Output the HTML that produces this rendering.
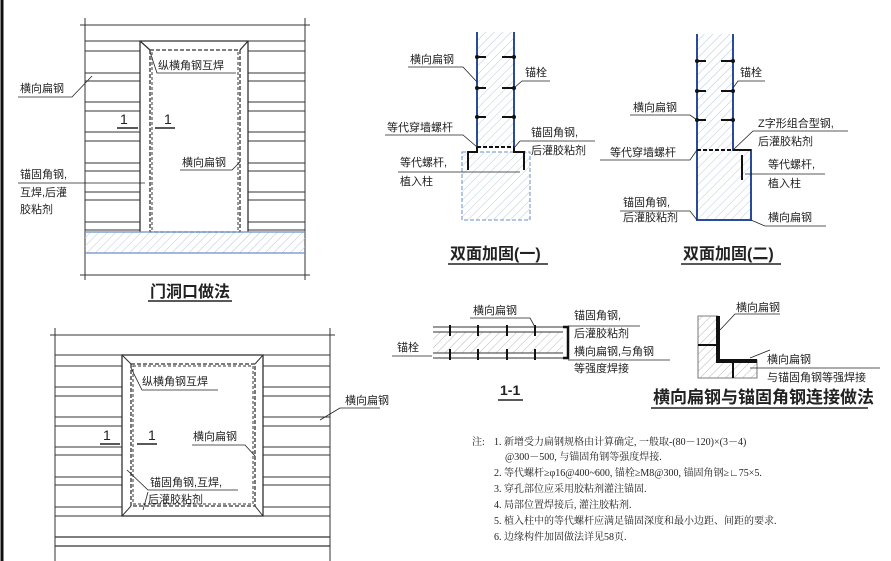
<!DOCTYPE html>
<html><head><meta charset="utf-8"><style>
html,body{margin:0;padding:0;background:#fff;}
svg{display:block;}
text{font-family:"Liberation Sans","Noto Sans CJK SC",sans-serif;fill:#222;}
.l{font-size:11px;}
.t{font-size:16px;font-weight:bold;}
.n{font-size:10px;font-family:"Liberation Serif","Noto Serif CJK SC",serif;}
</style></head><body>
<svg width="891" height="561" viewBox="0 0 891 561" xmlns="http://www.w3.org/2000/svg">
<defs>
<pattern id="h" width="6" height="6" patternUnits="userSpaceOnUse" patternTransform="rotate(45)">
<line x1="0" y1="0" x2="0" y2="6" stroke="#b8c8dc" stroke-width="1"/></pattern>
<pattern id="hg" width="6" height="6" patternUnits="userSpaceOnUse" patternTransform="rotate(45)">
<line x1="0" y1="0" x2="0" y2="6" stroke="#bbb" stroke-width="1"/></pattern>
</defs>
<rect width="891" height="561" fill="#fff"/>
<line x1="2" y1="0" x2="2" y2="561" stroke="#111" stroke-width="3"/>

<!-- TOP LEFT -->
<g stroke="#333" stroke-width="1" fill="none">
<line x1="85" y1="18" x2="85" y2="280"/><line x1="305" y1="18" x2="305" y2="280"/>
<line x1="80" y1="25" x2="310" y2="25"/><line x1="80" y1="275" x2="310" y2="275"/>
<path d="M85,41H140 M85,51H140 M85,73H140 M85,81H140 M85,102H140 M85,111H140 M85,132H140 M85,141H140 M85,163H140 M85,171H140 M85,192H140 M85,200H140 M85,222H140 M85,230H140"/>
<path d="M248,41H305 M248,51H305 M248,73H305 M248,81H305 M248,102H305 M248,111H305 M248,132H305 M248,141H305 M248,163H305 M248,171H305 M248,192H305 M248,200H305 M248,222H305 M248,230H305"/>
<path d="M140,232V41H248V232 M140,41L150,50 M248,41L240,50" stroke-width="1.3"/>
<rect x="150" y="50" width="90" height="182" stroke-dasharray="4,2" stroke-width="1.3"/>
<line x1="152" y1="52" x2="152" y2="232" stroke-dasharray="3,2"/><line x1="238" y1="52" x2="238" y2="232" stroke-dasharray="3,2"/>
</g>
<rect x="85" y="232" width="220" height="21" fill="url(#h)"/>
<line x1="85" y1="232" x2="305" y2="232" stroke="#6a8fc8" stroke-width="1.2"/>
<line x1="85" y1="253" x2="305" y2="253" stroke="#6a8fc8" stroke-width="1.2"/>
<g stroke="#222" stroke-width="0.8" fill="none">
<path d="M18,97H72L92,76"/>
<path d="M150,52L157,73H236"/>
<path d="M180,170H232L240,162"/>
<path d="M18,183H145"/>
<path d="M117,128H138 M155,128H175" stroke-width="1.5"/>
</g>
<text class="l" x="20" y="92">横向扁钢</text>
<text class="l" x="158" y="69">纵横角钢互焊</text>
<text x="120" y="124" style="font-size:14px">1</text><text x="164" y="124" style="font-size:14px">1</text>
<text class="l" x="182" y="166">横向扁钢</text>
<text class="l" x="20" y="178">锚固角钢,</text>
<text class="l" x="20" y="196">互焊,后灌</text>
<text class="l" x="20" y="213">胶粘剂</text>
<text class="t" x="150" y="297">门洞口做法</text>
<line x1="148" y1="301" x2="232" y2="301" stroke="#222" stroke-width="1.5"/>

<!-- BOTTOM LEFT -->
<g stroke="#333" stroke-width="1" fill="none">
<line x1="55" y1="328" x2="55" y2="561"/><line x1="330" y1="328" x2="330" y2="561"/>
<line x1="50" y1="335" x2="335" y2="335"/>
<path d="M55,355H122 M55,366H122 M55,387H122 M55,396H122 M55,417H122 M55,426H122 M55,447H122 M55,455H122 M55,477H122 M55,485H122 M55,507H122 M55,516H122"/>
<path d="M263,355H330 M263,366H330 M263,387H330 M263,396H330 M263,417H330 M263,426H330 M263,447H330 M263,455H330 M263,477H330 M263,485H330 M263,507H330 M263,516H330"/>
<path d="M55,537H330 M55,546H330" stroke-width="1.3"/>
<rect x="122" y="355" width="141" height="161" stroke-width="1.3"/>
<path d="M122,355L131,364 M263,355L255,364 M122,516L131,506 M263,516L255,506"/>
<rect x="131" y="364" width="124" height="142" stroke-dasharray="4,2" stroke-width="1.3"/>
<rect x="133" y="366" width="120" height="138" stroke-dasharray="3,2"/>
</g>
<g stroke="#222" stroke-width="0.8" fill="none">
<path d="M131,368L142,390H218"/>
<path d="M192,445H245L255,456"/>
<path d="M127,470L148,490H238"/>
<path d="M148,492L143,510"/>
<path d="M340,408H380 M340,408L320,420"/>
<path d="M100,444H120 M137,444H157" stroke-width="1.5"/>
</g>
<text class="l" x="142" y="385">纵横角钢互焊</text>
<text x="103" y="440" style="font-size:14px">1</text><text x="148" y="440" style="font-size:14px">1</text>
<text class="l" x="193" y="440">横向扁钢</text>
<text class="l" x="150" y="486">锚固角钢,互焊,</text>
<text class="l" x="148" y="503">后灌胶粘剂</text>
<text class="l" x="345" y="404">横向扁钢</text>

<!-- 双面加固(一) -->
<rect x="477" y="32" width="37" height="115" fill="url(#h)"/>
<rect x="462" y="152" width="68" height="68" fill="url(#h)" stroke="#6a8fc8" stroke-dasharray="4,2"/>
<g stroke="#2a4a9a" stroke-width="2"><line x1="477" y1="32" x2="477" y2="147"/><line x1="514" y1="32" x2="514" y2="147"/></g>
<g stroke="#111" stroke-width="2" fill="none">
<path d="M477,57h9 M502,57h12 M477,88h9 M502,88h12 M477,117h9 M502,117h12"/>
<path d="M477,147H514" stroke-dasharray="4,2"/>
<path d="M468,170V152H477V147 M524,170V152H514V147" stroke-width="2"/>
</g>
<g fill="#111"><circle cx="477" cy="57" r="2"/><circle cx="514" cy="57" r="2"/><circle cx="477" cy="88" r="2"/><circle cx="514" cy="88" r="2"/><circle cx="477" cy="117" r="2"/><circle cx="514" cy="117" r="2"/></g>
<g stroke="#222" stroke-width="0.8" fill="none">
<path d="M408,67H463L477,82"/>
<path d="M550,81H522L514,88"/>
<path d="M385,135H463L477,147"/>
<path d="M520,141H595 M520,141L514,148"/>
<path d="M398,172H520"/>
</g>
<text class="l" x="410" y="63">横向扁钢</text>
<text class="l" x="525" y="76">锚栓</text>
<text class="l" x="387" y="131">等代穿墙螺杆</text>
<text class="l" x="531" y="136">锚固角钢,</text>
<text class="l" x="531" y="154">后灌胶粘剂</text>
<text class="l" x="400" y="166">等代螺杆,</text>
<text class="l" x="400" y="185">植入柱</text>
<text class="t" x="450" y="259">双面加固(一)</text>
<line x1="448" y1="264" x2="548" y2="264" stroke="#222" stroke-width="1.5"/>

<!-- 双面加固(二) -->
<path d="M697,34H733V150H751V220H697Z" fill="url(#h)"/>
<g stroke="#2a4a9a" stroke-width="2" fill="none"><path d="M697,34V220H751V150H733V34"/></g>
<g stroke="#111" stroke-width="2" fill="none">
<path d="M697,61h9 M721,61h12 M697,91h9 M721,91h12 M697,120h9 M721,120h12"/>
<path d="M697,150H733" stroke-dasharray="4,2"/>
<path d="M733,150H751 M742,155V180" stroke-width="2"/>
</g>
<g fill="#111"><circle cx="697" cy="61" r="2"/><circle cx="733" cy="61" r="2"/><circle cx="697" cy="91" r="2"/><circle cx="733" cy="91" r="2"/><circle cx="697" cy="120" r="2"/><circle cx="733" cy="120" r="2"/></g>
<g stroke="#222" stroke-width="0.8" fill="none">
<path d="M765,81H738L733,88"/>
<path d="M630,115H690L697,120"/>
<path d="M848,131H753L733,150"/>
<path d="M600,160H690L697,150"/>
<path d="M745,174H825"/>
<path d="M620,211H690L697,220"/>
<path d="M826,226H765L751,220"/>
</g>
<text class="l" x="740" y="76">锚栓</text>
<text class="l" x="633" y="111">横向扁钢</text>
<text class="l" x="758" y="127">Z字形组合型钢,</text>
<text class="l" x="758" y="145">后灌胶粘剂</text>
<text class="l" x="610" y="156">等代穿墙螺杆</text>
<text class="l" x="768" y="168">等代螺杆,</text>
<text class="l" x="768" y="187">植入柱</text>
<text class="l" x="623" y="206">锚固角钢,</text>
<text class="l" x="623" y="221">后灌胶粘剂</text>
<text class="l" x="768" y="221">横向扁钢</text>
<text class="t" x="683" y="259">双面加固(二)</text>
<line x1="681" y1="264" x2="781" y2="264" stroke="#222" stroke-width="1.5"/>

<!-- 1-1 -->
<rect x="433" y="332" width="130" height="21" fill="url(#hg)"/>
<g stroke="#333" stroke-width="1" fill="none">
<path d="M433,327H563 M433,332H563 M433,353H563 M433,358H563"/>
<path d="M563,327H568V358H563" stroke="#111" stroke-width="2.5"/>
</g>
<g stroke="#111" stroke-width="2">
<path d="M450,325v11 M478,325v11 M507,325v11 M535,325v11 M450,349v11 M478,349v11 M507,349v11 M535,349v11"/>
</g>
<g stroke="#222" stroke-width="0.8" fill="none">
<path d="M470,318H530L535,327"/>
<path d="M568,326H640"/>
<path d="M568,360H670"/>
<path d="M392,356H432"/>
</g>
<text class="l" x="473" y="314">横向扁钢</text>
<text class="l" x="574" y="319">锚固角钢,</text>
<text class="l" x="574" y="337">后灌胶粘剂</text>
<text class="l" x="574" y="355">横向扁钢,与角钢</text>
<text class="l" x="574" y="372">等强度焊接</text>
<text class="l" x="397" y="351">锚栓</text>
<text x="500" y="395" style="font-size:14px;font-weight:bold">1-1</text>
<line x1="498" y1="400" x2="523" y2="400" stroke="#222" stroke-width="1.5"/>

<!-- connection detail -->
<path d="M698,316H718V360H757V378H698Z" fill="url(#hg)" stroke="#555" stroke-width="0.8"/>
<path d="M718,316V361H757" stroke="#111" stroke-width="4" fill="none"/>
<path d="M698,345H718 M733,360V378" stroke="#111" stroke-width="2"/>
<g stroke="#222" stroke-width="0.8" fill="none">
<path d="M780,314H735L720,330"/>
<path d="M750,358L770,350 M750,368H880"/>
</g>
<text class="l" x="736" y="311">横向扁钢</text>
<text class="l" x="767" y="363">横向扁钢</text>
<text class="l" x="767" y="381">与锚固角钢等强焊接</text>
<text style="font-size:17px;font-weight:bold" x="653" y="403">横向扁钢与锚固角钢连接做法</text>
<line x1="651" y1="408" x2="868" y2="408" stroke="#222" stroke-width="1.5"/>

<!-- notes -->
<text class="n" x="472" y="445">注:</text>
<text class="n" x="494" y="445">1. 新增受力扁钢规格由计算确定, 一般取-(80－120)×(3－4)</text>
<text class="n" x="505" y="460">@300－500, 与锚固角钢等强度焊接.</text>
<text class="n" x="494" y="476">2. 等代螺杆≥φ16@400~600, 锚栓≥M8@300, 锚固角钢≥∟75×5.</text>
<text class="n" x="494" y="492">3. 穿孔部位应采用胶粘剂灌注锚固.</text>
<text class="n" x="494" y="508">4. 局部位置焊接后, 灌注胶粘剂.</text>
<text class="n" x="494" y="524">5. 植入柱中的等代螺杆应满足锚固深度和最小边距、间距的要求.</text>
<text class="n" x="494" y="540">6. 边缘构件加固做法详见58页.</text>
</svg>
</body></html>
